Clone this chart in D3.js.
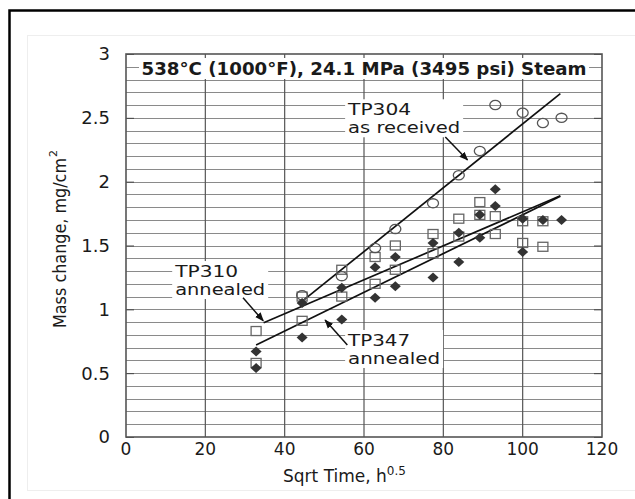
<!DOCTYPE html>
<html>
<head>
<meta charset="utf-8">
<script src="https://cdn.jsdelivr.net/npm/d3@7"></script>
<style>
body { margin: 0; background: #fff; }
text { font-family: "DejaVu Sans", "Liberation Sans", sans-serif; fill: #1a1a1a; }
</style>
</head>
<body>
<svg id="chart" width="635" height="499"></svg>
<script>
// TP304 as received (open circles)
var tp304X = [44.4, 54.4, 62.8, 67.9, 77.4, 83.9, 89.2, 93.1, 100, 105.1, 109.8];
var tp304Y = [1.11, 1.26, 1.48, 1.63, 1.83, 2.05, 2.24, 2.60, 2.54, 2.46, 2.50];
// TP310 annealed (open squares)
var tp310X = [32.8, 32.8, 44.4, 44.4, 54.4, 54.4, 62.8, 62.8, 67.9, 67.9, 77.4, 77.4, 83.9, 83.9, 89.2, 89.2, 93.1, 93.1, 100, 100, 105.1, 105.1];
var tp310Y = [0.83, 0.58, 1.10, 0.91, 1.31, 1.10, 1.41, 1.20, 1.50, 1.31, 1.59, 1.44, 1.71, 1.57, 1.84, 1.74, 1.73, 1.59, 1.69, 1.52, 1.69, 1.49];
// TP347 annealed (filled diamonds)
var tp347X = [32.8, 32.8, 44.4, 44.4, 54.4, 54.4, 62.8, 62.8, 67.9, 67.9, 77.4, 77.4, 83.9, 83.9, 89.2, 89.2, 93.1, 93.1, 100, 100, 105.1, 109.8];
var tp347Y = [0.67, 0.54, 1.05, 0.78, 1.17, 0.92, 1.33, 1.09, 1.41, 1.18, 1.52, 1.25, 1.60, 1.37, 1.74, 1.56, 1.94, 1.81, 1.71, 1.45, 1.70, 1.70];

// fitted lines: start / end
var fitNames = ["TP304", "TP310", "TP347"];
var fitX0 = [43.9, 34.7, 32.8];
var fitY0 = [1.05, 0.895, 0.72];
var fitX1 = [109.5, 109.5, 109.5];
var fitY1 = [2.69, 1.89, 1.885];

var xTicks = [0, 20, 40, 60, 80, 100, 120];
var yTicks = [0, 0.5, 1, 1.5, 2, 2.5, 3];
var yTickLabels = ["0", "0.5", "1", "1.5", "2", "2.5", "3"];
var chartTitle = "538°C (1000°F), 24.1 MPa (3495 psi) Steam";

var svg = d3.select("#chart"),
    margin = {top: 54, left: 126, bottom: 62, right: 33},
    width = +svg.attr("width") - margin.left - margin.right,
    height = +svg.attr("height") - margin.top - margin.bottom;

// frame around the figure
svg.append("rect").attr("x", 9.5).attr("y", 10.5).attr("width", 700).attr("height", 700)
    .attr("fill", "none").attr("stroke", "#000").attr("stroke-width", 2.5);
svg.append("rect").attr("x", 27.5).attr("y", 35.5).attr("width", 700).attr("height", 455)
    .attr("fill", "#fff").attr("stroke", "#eee");

var x = d3.scaleLinear().domain([0, 120]).range([margin.left, margin.left + width]);
var y = d3.scaleLinear().domain([0, 3]).range([margin.top + height, margin.top]);

var defs = svg.append("defs");
defs.append("marker").attr("id", "arrow")
    .attr("viewBox", "0 0 10 10").attr("refX", 9).attr("refY", 5)
    .attr("markerWidth", 9).attr("markerHeight", 9).attr("orient", "auto")
    .attr("markerUnits", "userSpaceOnUse")
  .append("path").attr("d", "M0,1 L10,5 L0,9 Z").attr("fill", "#111");

// grid
var grid = svg.append("g");
grid.selectAll(".hgrid")
    .data(d3.range(1, 30).map(d => d / 10))
  .enter().append("line")
    .attr("x1", x(0)).attr("x2", x(120))
    .attr("y1", d => Math.round(y(d)) + 0.5).attr("y2", d => Math.round(y(d)) + 0.5)
    .attr("stroke", "#8a8a8a").attr("stroke-width", 1);
grid.selectAll(".vgrid")
    .data([20, 40, 60, 80, 100])
  .enter().append("line")
    .attr("x1", d => x(d)).attr("x2", d => x(d))
    .attr("y1", y(0)).attr("y2", y(3))
    .attr("stroke", "#555").attr("stroke-width", 1.2);

// inner ticks on both sides
svg.append("g").attr("transform", `translate(${x(0)},0)`)
    .call(d3.axisRight(y).tickValues(yTicks).tickSize(8).tickFormat(""))
    .call(g => g.select(".domain").remove())
    .selectAll("line").attr("stroke", "#444");
svg.append("g").attr("transform", `translate(${x(120)},0)`)
    .call(d3.axisLeft(y).tickValues(yTicks).tickSize(8).tickFormat(""))
    .call(g => g.select(".domain").remove())
    .selectAll("line").attr("stroke", "#444");

// white boxes behind labels, then labels
var labels = [
    {lines: ["TP304", "as received"], x: 56.0, y: 2.52, w: [63, 112]},
    {lines: ["TP310", "annealed"], x: 12.4, y: 1.253, w: [63, 90]},
    {lines: ["TP347", "annealed"], x: 56.0, y: 0.713, w: [62, 92]}
];
var labelG = svg.append("g");
labels.forEach(function(l) {
    var w = d3.max(l.w);
    labelG.append("rect")
        .attr("x", x(l.x) - 3).attr("y", y(l.y) - 16)
        .attr("width", w + 6).attr("height", 38)
        .attr("fill", "#fff");
    l.lines.forEach(function(t, i) {
        labelG.append("text")
            .attr("x", x(l.x)).attr("y", y(l.y) + i * 18)
            .attr("font-size", 16)
            .attr("textLength", l.w[i]).attr("lengthAdjust", "spacingAndGlyphs")
            .text(t);
    });
});

// title box
var titleBg = svg.append("rect").attr("fill", "#fff");
var title = svg.append("text")
    .attr("x", x(60)).attr("y", 75)
    .attr("text-anchor", "middle")
    .attr("font-size", 17).attr("font-weight", "bold")
    .attr("textLength", 445).attr("lengthAdjust", "spacingAndGlyphs")
    .text(chartTitle);
titleBg.attr("x", x(60) - 225).attr("y", 58).attr("width", 450).attr("height", 21);

// plot border
svg.append("rect")
    .attr("x", x(0)).attr("y", y(3))
    .attr("width", x(120) - x(0)).attr("height", y(0) - y(3))
    .attr("fill", "none").attr("stroke", "#555").attr("stroke-width", 1.6);

// fitted lines
svg.selectAll(".fit")
    .data(fitNames)
  .enter().append("line")
    .attr("class", "fit")
    .attr("x1", (d, i) => x(fitX0[i])).attr("y1", (d, i) => y(fitY0[i]))
    .attr("x2", (d, i) => x(fitX1[i])).attr("y2", (d, i) => y(fitY1[i]))
    .attr("stroke", "#111").attr("stroke-width", 1.7);

// points
svg.selectAll(".sq")
    .data(tp310X)
  .enter().append("rect")
    .attr("x", (d, i) => x(d) - 5).attr("y", (d, i) => y(tp310Y[i]) - 4.5)
    .attr("width", 10).attr("height", 9)
    .attr("fill", "none").attr("stroke", "#666").attr("stroke-width", 1.3);

svg.selectAll(".circ")
    .data(tp304X)
  .enter().append("ellipse")
    .attr("cx", d => x(d)).attr("cy", (d, i) => y(tp304Y[i]))
    .attr("rx", 5.5).attr("ry", 4.6)
    .attr("fill", "none").attr("stroke", "#555").attr("stroke-width", 1.3);

svg.selectAll(".dia")
    .data(tp347X)
  .enter().append("path")
    .attr("transform", (d, i) => `translate(${x(d)},${y(tp347Y[i])})`)
    .attr("d", "M0,-5 L5.5,0 L0,5 L-5.5,0 Z")
    .attr("fill", "#333");

// arrows
var arrows = [[80.5, 2.35, 86.1, 2.17], [29.5, 1.09, 34.6, 0.91], [55.8, 0.72, 50.2, 0.916]];
svg.selectAll(".arrow")
    .data(arrows)
  .enter().append("line")
    .attr("x1", d => x(d[0])).attr("y1", d => y(d[1]))
    .attr("x2", d => x(d[2])).attr("y2", d => y(d[3]))
    .attr("stroke", "#111").attr("stroke-width", 1.5)
    .attr("marker-end", "url(#arrow)");

// tick labels
svg.selectAll(".xlab")
    .data(xTicks)
  .enter().append("text")
    .attr("x", d => x(d)).attr("y", 455)
    .attr("text-anchor", "middle").attr("font-size", 17)
    .text(d => d);
svg.selectAll(".ylab")
    .data(yTicks)
  .enter().append("text")
    .attr("x", 110).attr("y", d => y(d))
    .attr("dy", "0.36em")
    .attr("text-anchor", "end").attr("font-size", 18)
    .text((d, i) => yTickLabels[i]);

// axis titles
var xt = svg.append("text")
    .attr("x", 283).attr("y", 482)
    .attr("font-size", 17);
xt.append("tspan").text("Sqrt Time, h");
xt.append("tspan").attr("dy", -7).attr("font-size", 12).text("0.5");

var yt = svg.append("g").attr("transform", "translate(66,240) rotate(-90)");
yt.append("text")
    .attr("x", -88).attr("y", 0)
    .attr("font-family", "Liberation Sans Narrow, Liberation Sans, sans-serif")
    .attr("font-size", 18)
    .attr("textLength", 170).attr("lengthAdjust", "spacingAndGlyphs")
    .text("Mass change, mg/cm");
yt.append("text")
    .attr("x", 83).attr("y", -9)
    .attr("font-family", "Liberation Sans Narrow, Liberation Sans, sans-serif")
    .attr("font-size", 11)
    .text("2");
</script>
</body>
</html>
